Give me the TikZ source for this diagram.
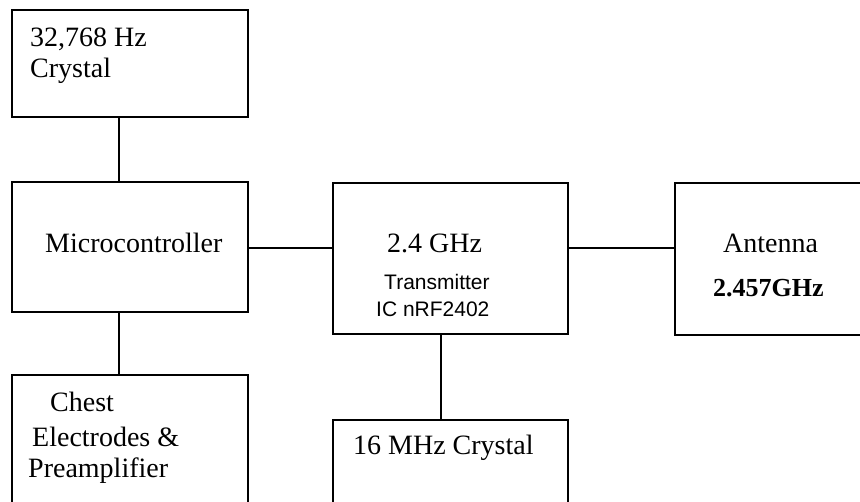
\documentclass[tikz,border=0pt]{standalone}
\usepackage{fontspec}
\setmainfont{Liberation Serif}
\newfontfamily\arialfont{Liberation Sans}
\begin{document}
\begin{tikzpicture}[x=1pt,y=-1pt,
  box/.style={draw=black, line width=1.6pt, inner sep=0pt, outer sep=0pt, rectangle},
  lbl/.style={anchor=base west, inner sep=0pt, font=\fontsize{28}{30}\selectfont},
  small/.style={anchor=base west, inner sep=0pt, font=\arialfont\fontsize{21}{23}\selectfont},
  wire/.style={line width=1.6pt}]
\useasboundingbox (0,0) rectangle (860,502);
\clip (0,0) rectangle (860,502);
% boxes
\node[box, minimum width=236pt, minimum height=107pt] (crys) at (130,63.5) {};
\node[box, minimum width=236pt, minimum height=130pt] (micro) at (130,247) {};
\node[box, minimum width=236pt, minimum height=185pt] (chest) at (130,467.5) {};
\node[box, minimum width=235pt, minimum height=151pt] (trans) at (450.5,258.5) {};
\node[box, minimum width=235pt, minimum height=140pt] (xtal) at (450.5,490) {};
\node[box, minimum width=225pt, minimum height=152pt] (ant) at (787.5,259) {};
% texts
\node[lbl] (t1) at (30,47) {32,768 Hz};
\node[lbl] (t2) at (30,78) {Crystal};
\node[lbl] (t3) at (45,253) {Microcontroller};
\node[lbl] (t4) at (387,253) {2.4 GHz};
\node[small] (t5) at (384,290) {Transmitter};
\node[small] (t6) at (376,317) {IC nRF2402};
\node[lbl] (t7) at (723,253) {Antenna};
\node[lbl, font=\bfseries\fontsize{26}{28}\selectfont] (t8) at (713,297) {2.457GHz};
\node[lbl] (t9) at (50,412) {Chest};
\node[lbl] (t10) at (32,447) {Electrodes \&};
\node[lbl] (t11) at (28,478) {Preamplifier};
\node[lbl] (t12) at (353,455) {16 MHz Crystal};
% connectors
\coordinate (cx) at (119,0);
\coordinate (tx) at (441,0);
\coordinate (ly) at (0,248);
\draw[wire] (crys.south -| cx) -- (micro.north -| cx);
\draw[wire] (micro.south -| cx) -- (chest.north -| cx);
\draw[wire] (micro.east |- ly) -- (trans.west |- ly);
\draw[wire] (trans.east |- ly) -- (ant.west |- ly);
\draw[wire] (trans.south -| tx) -- (xtal.north -| tx);
\end{tikzpicture}
\end{document}
